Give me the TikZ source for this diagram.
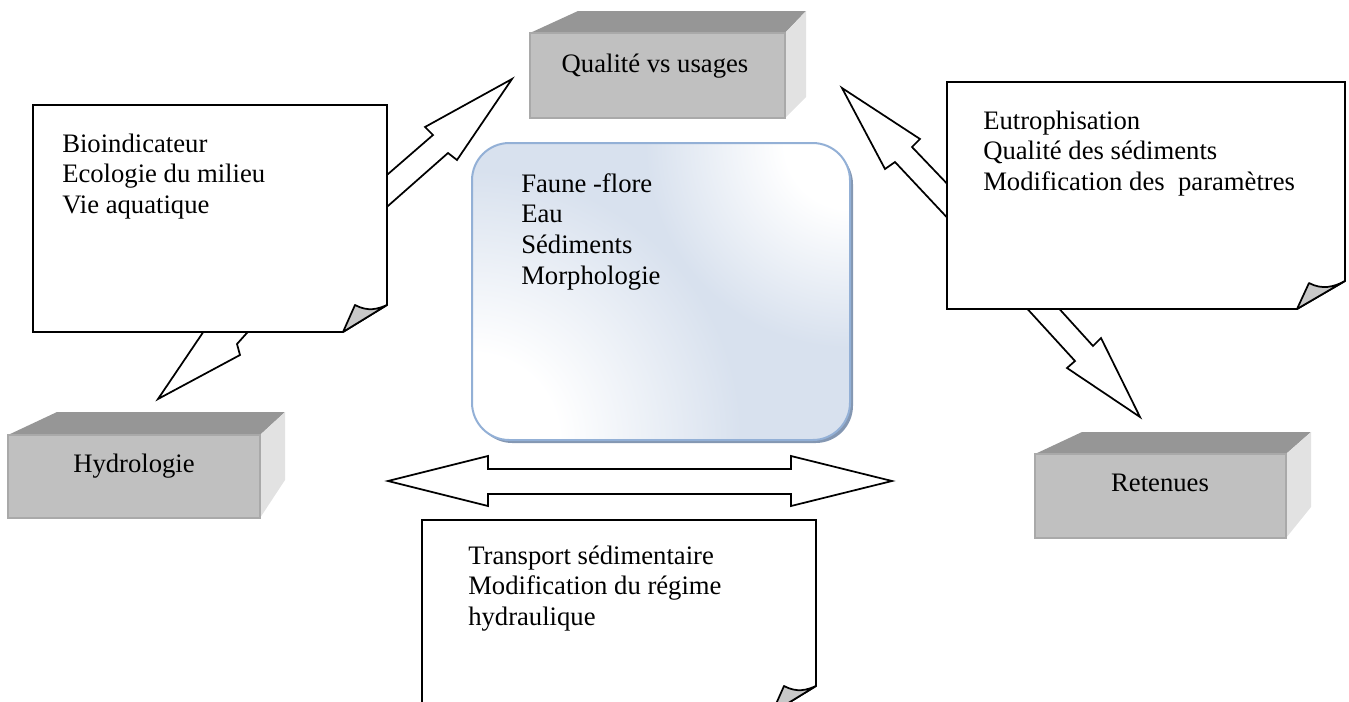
\documentclass[tikz,border=0pt]{standalone}
\usepackage{fontspec}
\setmainfont{Liberation Serif}
\definecolor{boxfront}{HTML}{C0C0C0}
\definecolor{boxtop}{HTML}{969696}
\definecolor{boxside}{HTML}{E2E2E2}
\definecolor{flapgray}{HTML}{C8C8C8}
\definecolor{paneblue}{HTML}{D8E1EE}
\definecolor{paneedge}{HTML}{93B0D6}
\definecolor{paneshadow}{HTML}{8497B2}
\pgfdeclareradialshading{glowshade}{\pgfpoint{0bp}{0bp}}{color(0bp)=(white); color(8bp)=(white); color(25bp)=(paneblue); color(50bp)=(paneblue)}
\newcommand{\rows}[1]{\begin{tabular}[t]{@{}l@{}}#1\end{tabular}}

\begin{document}
\begin{tikzpicture}[x=0.75pt,y=-0.75pt,
  every node/.style={font=\fontsize{20}{23}\selectfont,inner sep=0pt},
  front/.style={fill=boxfront,draw=boxfront!88!black,line width=0.8pt},
  topface/.style={fill=boxtop},
  sideface/.style={fill=boxside},
  glow/.style={shading=glowshade},
  callout/.style={fill=white,draw=black,line width=1.3pt,line join=miter},
  flap/.style={fill=flapgray,draw=black,line width=1.3pt,line join=round},
  blockarrow/.style={fill=white,draw=black,line width=1.3pt,line join=miter}]
\useasboundingbox (0,0) rectangle (1349,701);
\clip (0,0) rectangle (1349,701);

% boite Qualite
\fill [topface] (530,33) -- (578,11) -- (806,11) -- (785,33) -- cycle;
\fill [sideface] (785,33) -- (806,11) -- (806,97) -- (785,118) -- cycle;
\draw [front] (530,33) rectangle (785,118);
\node [anchor=base] (qual) at (655,72) {Qualité vs usages};

% boite Hydrologie
\fill [topface] (8,435) -- (57,412) -- (285,412) -- (260,435) -- cycle;
\fill [sideface] (260,435) -- (285,412) -- (285,480) -- (260,518) -- cycle;
\draw [front] (8,435) rectangle (260,518);
\node [anchor=base] (hydro) at (134,472) {Hydrologie};

% boite Retenues
\fill [topface] (1035,454) -- (1082,432) -- (1311,432) -- (1286,454) -- cycle;
\fill [sideface] (1286,454) -- (1311,432) -- (1311,507) -- (1286,538) -- cycle;
\draw [front] (1035,454) rectangle (1286,538);
\node [anchor=base] (ret) at (1160,491) {Retenues};

% fleches
\draw [blockarrow] (380,181) -- (433,135) -- (425,127) -- (512,79) -- (457,160)
  -- (448,153) -- (380,213);
\draw [blockarrow] (955,192) -- (912,147) -- (920,139) -- (842,88) -- (885,169)
  -- (895,162) -- (955,226);
\draw [blockarrow] (1022,303) -- (1075,361) -- (1067,368) -- (1140,417) -- (1101,338)
  -- (1093,346) -- (1054,303);
\draw [blockarrow] (208,325) -- (158,399) -- (240,355) -- (237,344) -- (254,325);
\draw [blockarrow] (388,481) -- (488,456) -- (488,469) -- (791,469) -- (791,456)
  -- (892,481) -- (791,506) -- (791,494) -- (488,494) -- (488,506) -- cycle;

% cadre central
\fill [paneshadow, rounded corners=28pt] (475,147) rectangle (853,443);
\begin{scope}
\clip [rounded corners=28pt] (472,143) rectangle (850,440);
\fill [paneblue] (472,143) rectangle (850,440);
\shade [glow] (472,440) circle [radius=270];
\shade [glow] (850,143) circle [radius=205];
\end{scope}
\draw [paneedge, line width=1.5pt, rounded corners=28pt] (472,143) rectangle (850,440);
\node [anchor=base west] (core) at (521,192)
  {\rows{Faune -flore\\ Eau\\ Sédiments\\ Morphologie}};

% notes
\draw [callout] (33,105) -- (387,105) -- (387,305) -- (343,332) -- (33,332) -- cycle;
\draw [flap] (343,332) -- (355,305) .. controls (368,312) and (378,309) .. (387,305) -- cycle;
\node [anchor=base west] (bio) at (62,152)
  {\rows{Bioindicateur\\ Ecologie du milieu\\ Vie aquatique}};

\draw [callout] (947,82) -- (1345,82) -- (1345,281) -- (1297,309) -- (947,309) -- cycle;
\draw [flap] (1297,309) -- (1309,283) .. controls (1322,290) and (1334,287) .. (1345,281) -- cycle;
\node [anchor=base west] (eutro) at (983,129)
  {\rows{Eutrophisation\\ Qualité des sédiments\\ Modification des\ \ paramètres}};

\draw [callout] (422,520) -- (816,520) -- (816,686) -- (772,713) -- (422,713) -- cycle;
\draw [flap] (772,713) -- (784,686) .. controls (797,693) and (807,690) .. (816,686) -- cycle;
\node [anchor=base west] (transp) at (468,564)
  {\rows{Transport sédimentaire\\ Modification du régime\\ hydraulique}};
\end{tikzpicture}
\end{document}
